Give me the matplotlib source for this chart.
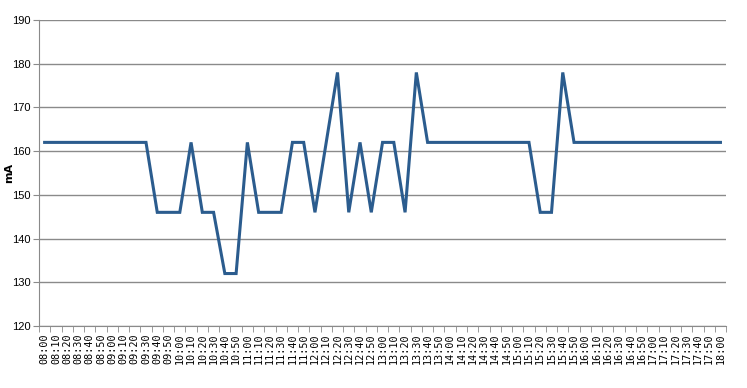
import matplotlib
matplotlib.use("Agg")
import matplotlib.pyplot as plt
import numpy as np

times = [f"{h:02d}:{m:02d}" for h in range(8, 19) for m in range(0, 60, 10)][:61]
values = [162, 162, 162, 162, 162, 162, 162, 162, 162, 162,
          146, 146, 146, 162, 146, 146, 132, 132, 162, 146,
          146, 146, 162, 162, 146, 162, 178, 146, 162, 146,
          162, 162, 146, 178, 162, 162, 162, 162, 162, 162,
          162, 162, 162, 162, 146, 146, 178, 162, 162, 162,
          162, 162, 162, 162, 162, 162, 162, 162, 162, 162,
          162]
y_ticks = [120, 130, 140, 150, 160, 170, 180, 190]

fig = plt.figure(figsize=(7.47, 3.88), dpi=100)
ax = fig.add_axes([0.0522, 0.1598, 0.9198, 0.7887])

x = np.arange(len(times))
ax.plot(x, values, color="#2B5C8E", lw=2.2, solid_joinstyle="miter")

ax.set_xlim(-0.5, len(times) - 0.5)
ax.set_ylim(120, 190)
ax.set_yticks(y_ticks)
ax.set_yticklabels([str(v) for v in y_ticks], fontsize=8, family=["Liberation Sans Narrow", "Liberation Sans"])
ax.yaxis.grid(True, color="#8a8a8a", lw=1.0)
ax.set_axisbelow(True)

ax.set_xticks(x)
ax.set_xticklabels(times, rotation=90, fontsize=7.3, family="DejaVu Sans Mono")
ax.set_xticks(np.arange(-0.5, len(times)), minor=True)
ax.tick_params(axis="x", which="major", length=0, pad=5)
ax.tick_params(axis="x", which="minor", length=4, color="#8a8a8a", direction="out")
ax.tick_params(axis="y", length=4, color="#8a8a8a", direction="out", pad=2)

for s in ["top", "right"]:
    ax.spines[s].set_visible(False)
for s in ["left", "bottom"]:
    ax.spines[s].set_color("#8a8a8a")

ax.set_ylabel("mA", fontsize=8, fontweight="bold")
ax.yaxis.set_label_coords(-0.036, 0.5)

fig.savefig("out.png", dpi=100)
